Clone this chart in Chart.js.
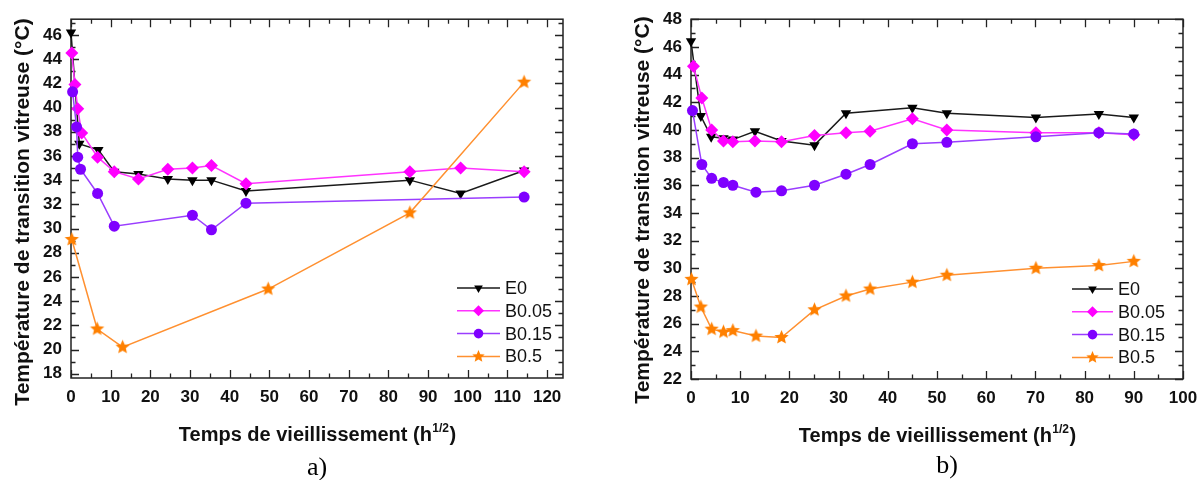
<!DOCTYPE html>
<html>
<head>
<meta charset="utf-8">
<script src="https://cdn.jsdelivr.net/npm/chart.js@4.4.1/dist/chart.umd.min.js"></script>
<style>
  html, body { margin: 0; padding: 0; background: #fff; overflow: hidden; width: 1197px; height: 480px; }
  canvas { position: absolute; top: 0; }
  #ca { left: 0; }
  #cb { left: 600px; }
</style>
</head>
<body>
<canvas id="ca" width="590" height="480"></canvas>
<canvas id="cb" width="630" height="480"></canvas>
<script>
// ---------- data ----------
const seriesNames = ['E0', 'B0.05', 'B0.15', 'B0.5'];

// panel a)
const xE0A   = [0, 2.1, 6.9, 10.9, 17, 24.4, 30.6, 35.4, 44.1, 85.4, 98.2, 114.2];
const yE0A   = [46.2, 37.0, 36.5, 34.7, 34.5, 34.1, 34.0, 34.0, 33.1, 34.0, 32.9, 34.8];
const xB005A = [0.2, 1, 1.7, 2.7, 6.7, 10.9, 17, 24.4, 30.6, 35.4, 44.1, 85.4, 98.2, 114.2];
const yB005A = [44.5, 41.9, 39.9, 37.9, 35.9, 34.7, 34.1, 34.9, 35.0, 35.2, 33.7, 34.7, 35.0, 34.7];
const xB015A = [0.4, 1.4, 1.7, 2.4, 6.7, 10.9, 30.6, 35.4, 44.1, 114.2];
const yB015A = [41.3, 38.4, 35.9, 34.9, 32.9, 30.2, 31.1, 29.9, 32.1, 32.6];
const xB05A  = [0.2, 6.6, 13, 49.7, 85.4, 114.2];
const yB05A  = [29.1, 21.7, 20.2, 25.0, 31.3, 42.1];

// panel b)
const xE0B   = [0, 2, 4.1, 6.6, 8.5, 13, 18.4, 25.1, 31.5, 45, 52, 70.1, 82.9, 90];
const yE0B   = [46.4, 41.0, 39.5, 39.4, 39.3, 39.9, 39.2, 38.9, 41.2, 41.6, 41.2, 40.9, 41.15, 40.9];
const xB005B = [0.5, 2.2, 4.2, 6.6, 8.5, 13, 18.4, 25.1, 31.5, 36.4, 45, 52, 70.1, 82.9, 90];
const yB005B = [44.6, 42.3, 40.0, 39.2, 39.15, 39.2, 39.15, 39.6, 39.8, 39.9, 40.8, 40.0, 39.8, 39.8, 39.65];
const xB015B = [0.3, 2.2, 4.2, 6.6, 8.5, 13.2, 18.4, 25.1, 31.5, 36.4, 45, 52, 70.1, 82.9, 90];
const yB015B = [41.4, 37.5, 36.5, 36.2, 36.0, 35.5, 35.6, 36.0, 36.8, 37.5, 39.0, 39.1, 39.5, 39.8, 39.7];
const xB05B  = [0.1, 2.0, 4.2, 6.6, 8.5, 13.2, 18.4, 25.1, 31.5, 36.4, 45, 52, 70.1, 82.9, 90];
const yB05B  = [29.2, 27.2, 25.6, 25.4, 25.5, 25.1, 25.0, 27.0, 28.0, 28.5, 29.0, 29.5, 30.0, 30.2, 30.5];

// tick labels
const xTicksA = [0, 10, 20, 30, 40, 50, 60, 70, 80, 90, 100, 110, 120];
const yTicksA = [18, 20, 22, 24, 26, 28, 30, 32, 34, 36, 38, 40, 42, 44, 46];
const xTicksB = [0, 10, 20, 30, 40, 50, 60, 70, 80, 90, 100];
const yTicksB = [22, 24, 26, 28, 30, 32, 34, 36, 38, 40, 42, 44, 46, 48];

const yTitle = 'Température de transition vitreuse (°C)';
const xTitleMain = 'Temps de vieillissement (h';
const xTitleSup = '1/2';
const xTitleEnd = ')';
const panelLabels = ['a)', 'b)'];

// ---------- styling ----------
const FONT = '"Liberation Sans", Arial, sans-serif';
const lineColors = ['#1a1a1a', '#ff33ff', '#9a3dff', '#ff9030'];
const markColors = ['#000000', '#ff00ff', '#7f00ff', '#ff8000'];

function starImg(color, r) {
  const s = Math.ceil(r * 2 + 2);
  const c = document.createElement('canvas');
  c.width = s; c.height = s;
  const g = c.getContext('2d');
  g.fillStyle = color;
  g.beginPath();
  for (let k = 0; k < 10; k++) {
    const rr = (k % 2) ? r * 0.45 : r;
    const a = -Math.PI / 2 + k * Math.PI / 5;
    g.lineTo(s / 2 + rr * Math.cos(a), s / 2 + rr * Math.sin(a));
  }
  g.closePath();
  g.fill();
  return c;
}
const starBig = starImg(markColors[3], 7.5);
const starSmall = starImg(markColors[3], 6.5);

const pointStyles = ['triangle', 'rectRot', 'circle', starBig];
const pointRadii = [6, 6.5, 5.5, 7.5];
const pointRot = [180, 0, 0, 0];

function drawMarker(ctx, idx, x, y) {
  ctx.save();
  ctx.fillStyle = markColors[idx];
  ctx.beginPath();
  if (idx === 0) {
    const r = 5;
    ctx.moveTo(x - r * 0.866, y - r * 0.5);
    ctx.lineTo(x + r * 0.866, y - r * 0.5);
    ctx.lineTo(x, y + r);
    ctx.closePath(); ctx.fill();
  } else if (idx === 1) {
    const r = 5.5;
    ctx.moveTo(x, y - r); ctx.lineTo(x + r, y); ctx.lineTo(x, y + r); ctx.lineTo(x - r, y);
    ctx.closePath(); ctx.fill();
  } else if (idx === 2) {
    ctx.arc(x, y, 4.8, 0, Math.PI * 2); ctx.fill();
  } else {
    ctx.drawImage(starSmall, x - starSmall.width / 2, y - starSmall.height / 2);
  }
  ctx.restore();
}

const decoPlugin = {
  id: 'deco',
  beforeDatasetsDraw(chart, args, o) {
    const ctx = chart.ctx, ca = chart.chartArea;
    const xs = chart.scales.x, ys = chart.scales.y;
    ctx.save();
    ctx.strokeStyle = '#222';
    ctx.lineWidth = 1.5;
    ctx.strokeRect(ca.left, ca.top, ca.right - ca.left, ca.bottom - ca.top);
    ctx.lineWidth = 1.3;
    ctx.beginPath();
    for (let v = 0; v <= xs.max + 1e-9; v += o.xMinor) {
      const px = Math.round(xs.getPixelForValue(v)) + 0.5;
      const major = Math.abs(v / o.xMajor - Math.round(v / o.xMajor)) < 1e-6;
      const L = major ? 8 : 4.5;
      ctx.moveTo(px, ca.bottom); ctx.lineTo(px, ca.bottom - L);
      ctx.moveTo(px, ca.top); ctx.lineTo(px, ca.top + L);
    }
    for (let v = Math.ceil(ys.min); v <= ys.max + 1e-9; v += o.yMinor) {
      const py = Math.round(ys.getPixelForValue(v)) + 0.5;
      const major = (v % o.yMajor) === 0;
      const L = major ? 8 : 4.5;
      ctx.moveTo(ca.left, py); ctx.lineTo(ca.left + L, py);
      ctx.moveTo(ca.right, py); ctx.lineTo(ca.right - L, py);
    }
    ctx.stroke();
    ctx.restore();
  },
  afterDraw(chart, args, o) {
    const ctx = chart.ctx, ca = chart.chartArea;
    ctx.save();
    ctx.fillStyle = '#111';
    // y title
    ctx.font = 'bold 21px ' + FONT;
    ctx.translate(o.yTitleX, o.yTitleY);
    ctx.rotate(-Math.PI / 2);
    ctx.textAlign = 'center';
    ctx.textBaseline = 'middle';
    ctx.fillText(yTitle, 0, 0);
    ctx.restore();

    // x title with superscript
    ctx.save();
    ctx.fillStyle = '#111';
    ctx.textBaseline = 'alphabetic';
    ctx.textAlign = 'left';
    const mainFont = 'bold 20px ' + FONT, supFont = 'bold 12px ' + FONT;
    ctx.font = mainFont; const w1 = ctx.measureText(xTitleMain).width; const w3 = ctx.measureText(xTitleEnd).width;
    ctx.font = supFont; const w2 = ctx.measureText(xTitleSup).width;
    let sx = (ca.left + ca.right) / 2 - (w1 + w2 + w3) / 2;
    ctx.font = mainFont; ctx.fillText(xTitleMain, sx, o.xTitleBase); sx += w1 + 0.5;
    ctx.font = supFont; ctx.fillText(xTitleSup, sx, o.xTitleBase - 9); sx += w2 + 0.5;
    ctx.font = mainFont; ctx.fillText(xTitleEnd, sx, o.xTitleBase);

    // panel label
    ctx.font = '26px "Liberation Serif", "Times New Roman", serif';
    ctx.textAlign = 'center';
    ctx.fillStyle = '#000';
    ctx.fillText(o.panel, o.panelX, o.panelBase);

    // legend
    ctx.font = '18px ' + FONT;
    ctx.textAlign = 'left';
    ctx.textBaseline = 'middle';
    chart.data.datasets.forEach((ds, i) => {
      const y = ca.bottom - o.legBottom + i * 22.8;
      const x1 = ca.right - o.legLineStart, x2 = ca.right - o.legLineEnd;
      ctx.strokeStyle = lineColors[i];
      ctx.lineWidth = 1.5;
      ctx.beginPath(); ctx.moveTo(x1, y); ctx.lineTo(x2, y); ctx.stroke();
      drawMarker(ctx, i, (x1 + x2) / 2, y);
      ctx.fillStyle = '#111';
      ctx.fillText(ds.label, ca.right - o.legText, y + 1);
    });
    ctx.restore();
  }
};

function makeDatasets(xsList, ysList) {
  return seriesNames.map((name, i) => ({
    label: name,
    data: xsList[i].map((x, k) => ({ x: x, y: ysList[i][k] })),
    borderColor: lineColors[i],
    backgroundColor: markColors[i],
    pointBackgroundColor: markColors[i],
    pointBorderColor: markColors[i],
    pointBorderWidth: 0,
    borderWidth: 1.5,
    pointStyle: pointStyles[i],
    pointRadius: pointRadii[i],
    pointRotation: pointRot[i],
    tension: 0,
    clip: false,
    order: 3 - i
  }));
}

function makeChart(id, cfg) {
  const tickFont = { family: FONT, size: 17, weight: 'bold' };
  return new Chart(document.getElementById(id), {
    type: 'line',
    data: { datasets: makeDatasets(cfg.xs, cfg.ys) },
    options: {
      responsive: false,
      animation: false,
      devicePixelRatio: 1,
      layout: { padding: { left: 0, top: cfg.top, right: cfg.padRight, bottom: 0 } },
      plugins: {
        legend: { display: false },
        tooltip: { enabled: false },
        deco: cfg.deco
      },
      scales: {
        x: {
          type: 'linear', min: cfg.xMin, max: cfg.xMax,
          afterBuildTicks: s => { s.ticks = cfg.xTicks.map(v => ({ value: v })); },
          afterFit: s => { s.height = cfg.xHeight; },
          grid: { display: false, drawTicks: false },
          border: { display: false },
          ticks: { font: tickFont, color: '#111', padding: 9, maxRotation: 0, autoSkip: false, callback: v => String(v) }
        },
        y: {
          type: 'linear', min: cfg.yMin, max: cfg.yMax,
          afterBuildTicks: s => { s.ticks = cfg.yTicks.map(v => ({ value: v })); },
          afterFit: s => { s.width = cfg.yWidth; },
          grid: { display: false, drawTicks: false },
          border: { display: false },
          ticks: { font: tickFont, color: '#111', padding: 9, autoSkip: false, callback: v => String(v) }
        }
      }
    },
    plugins: [decoPlugin]
  });
}

makeChart('ca', {
  xs: [xE0A, xB005A, xB015A, xB05A], ys: [yE0A, yB005A, yB015A, yB05A],
  xMin: 0, xMax: 124, yMin: 17.65, yMax: 47.3,
  xTicks: xTicksA, yTicks: yTicksA,
  top: 18, padRight: 590 - 563, xHeight: 480 - 378, yWidth: 71,
  deco: { xMinor: 5, xMajor: 10, yMinor: 1, yMajor: 2,
          yTitleX: 23, yTitleY: 212, xTitleBase: 441,
          panel: panelLabels[0], panelX: 317, panelBase: 475,
          legBottom: 90, legLineStart: 106, legLineEnd: 63, legText: 58 }
});

makeChart('cb', {
  xs: [xE0B, xB005B, xB015B, xB05B], ys: [yE0B, yB005B, yB015B, yB05B],
  xMin: 0, xMax: 100, yMin: 22, yMax: 48,
  xTicks: xTicksB, yTicks: yTicksB,
  top: 18, padRight: 630 - 583, xHeight: 480 - 379, yWidth: 91,
  deco: { xMinor: 5, xMajor: 10, yMinor: 1, yMajor: 2,
          yTitleX: 43, yTitleY: 210, xTitleBase: 442,
          panel: panelLabels[1], panelX: 347, panelBase: 473,
          legBottom: 90, legLineStart: 111, legLineEnd: 70, legText: 65 }
});
</script>
</body>
</html>
